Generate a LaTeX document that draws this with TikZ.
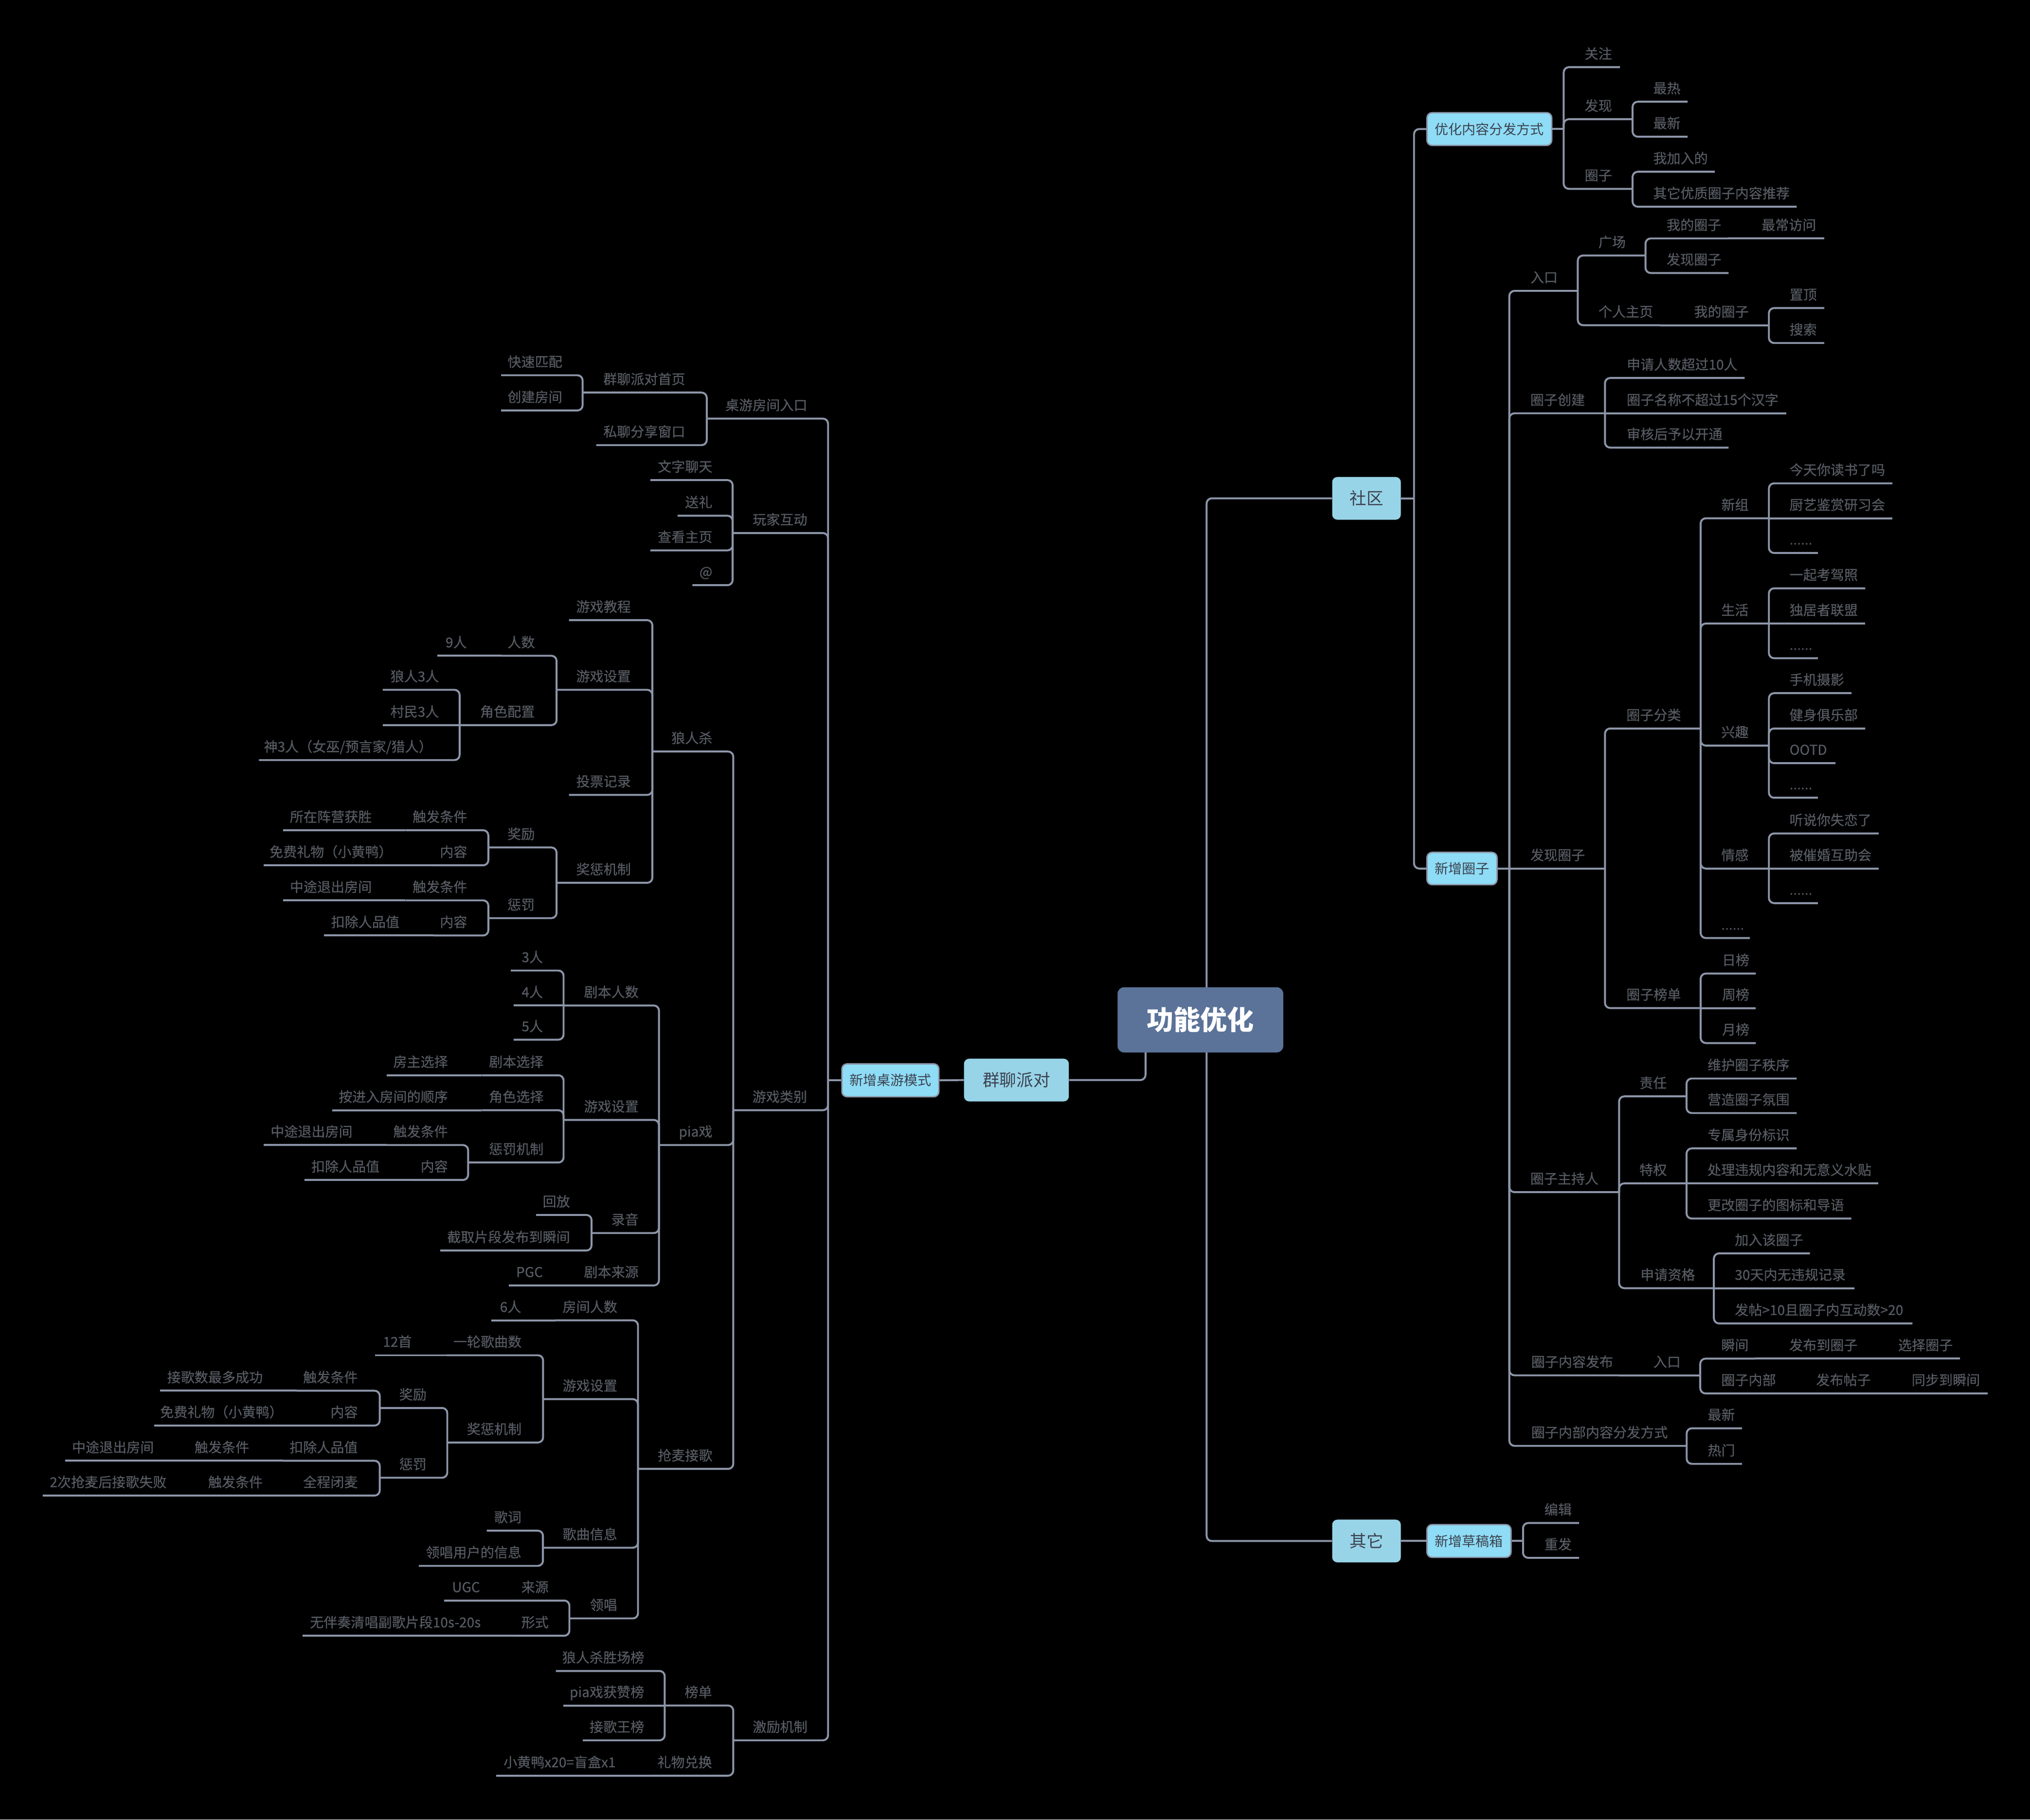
\documentclass[tikz,border=0pt]{standalone}
\usepackage{fontspec}
\newfontfamily\cjk{Noto Sans CJK SC}
\newfontfamily\cjkm[FakeBold=0.4]{Noto Sans CJK SC}
\usetikzlibrary{calc}
\definecolor{lnc}{HTML}{8D96A9}
\definecolor{txc}{HTML}{575B63}
\definecolor{boxt}{HTML}{3C4250}
\definecolor{lone}{HTML}{98D4E8}
\definecolor{ltwo}{HTML}{8EDCF5}
\definecolor{ctr}{HTML}{5B7399}
\pgfdeclarelayer{back}
\pgfdeclarelayer{bg}
\pgfsetlayers{back,bg,main}
\newcommand\RLab[5]{\node[lbl,anchor=base west] (#1) at (#2,#3-6.5) {#5};\coordinate (#1-e) at (#4,#3);}
\newcommand\LLab[5]{\node[lbl,anchor=base east] (#1) at (#2,#3-6.5) {#5};\coordinate (#1-e) at (#4,#3);}
\newcommand\MLink[2]{\draw[ln] (#1-e) |- (#2-e);}
\newcommand\MChain[2]{\draw[ln] (#1-e) -- (#2-e);}
\begin{document}
\begin{tikzpicture}[x=0.5mm,y=-0.5mm,
  lbl/.style={font=\cjkm\fontsize{15}{18}\selectfont, text=txc, inner sep=0pt},
  ln/.style={draw=lnc, line width=2.1pt, rounded corners=2mm},
  box1/.style={fill=lone, draw=none, rounded corners=2mm, inner sep=0pt, text=boxt, font=\cjk\fontsize{18.5}{22}\selectfont},
  box2/.style={fill=ltwo, draw=lnc, line width=1.5pt, rounded corners=2mm, inner sep=0pt, text=boxt, font=\cjk\fontsize{15}{18}\selectfont},
  cbox/.style={fill=ctr, draw=none, rounded corners=2.5mm, inner sep=0pt, text=white, font=\cjk\bfseries\fontsize{29.5}{34}\selectfont}]
\begin{pgfonlayer}{back}
\fill[black] (0,0) rectangle (1568,1405.7);
\end{pgfonlayer}
\useasboundingbox (0,0) rectangle (1568,1405.7);

% ---------- boxes ----------
\node[cbox, minimum width=64mm, minimum height=25.15mm] (c) at (927.2,787.9) {功能优化};
\node[box1, minimum width=40.5mm, minimum height=16.5mm] (ql) at (785.1,834.4) {群聊派对};
\node[box2, minimum width=37.45mm, minimum height=12.7mm] (zy) at (687.75,834.6) {新增桌游模式};
\node[box1, minimum width=26.5mm, minimum height=16.5mm] (sq) at (1055.5,385) {社区};
\node[box1, minimum width=26.5mm, minimum height=16.5mm] (qt) at (1055.5,1190.5) {其它};
\node[box2, minimum width=48.2mm, minimum height=12.65mm] (yh) at (1150.4,99.7) {优化内容分发方式};
\node[box2, minimum width=27.05mm, minimum height=12.5mm] (xq) at (1129.25,671.0) {新增圈子};
\node[box2, minimum width=32.45mm, minimum height=12.65mm] (cg) at (1134.65,1190.5) {新增草稿箱};

\coordinate (cv) at (932,787.9);
\coordinate (cq) at (884.8,800);
\coordinate (sq-e) at (1092.2,385);
\coordinate (yh-e) at (1207.8,99.7);
\coordinate (xq-e) at (1165.8,671.0);
\coordinate (cg-e) at (1176.4,1190.5);
\coordinate (zy-e) at (639.6,834.6);

% ---------- right labels ----------
\RLab{gz}{1223.9}{51.9}{1251.2}{关注}
\RLab{fx}{1223.9}{92.1}{1261.0}{发现}
\RLab{zr}{1276.8}{78.6}{1303.5}{最热}
\RLab{zx}{1276.8}{105.6}{1303.5}{最新}
\RLab{qz}{1223.9}{145.9}{1261.0}{圈子}
\RLab{wj}{1276.8}{132.7}{1324.5}{我加入的}
\RLab{qy}{1276.8}{159.7}{1387.8}{其它优质圈子内容推荐}
\RLab{rk}{1181.9}{224.7}{1218.7}{入口}
\RLab{gc}{1234.5}{197.4}{1271.0}{广场}
\RLab{wda}{1287.2}{184.2}{1335.0}{我的圈子}
\RLab{zcf}{1360.5}{184.2}{1409.1}{最常访问}
\RLab{fxq}{1287.2}{210.9}{1335.2}{发现圈子}
\RLab{grz}{1234.5}{251.2}{1282.0}{个人主页}
\RLab{wdb}{1308.4}{251.2}{1366.3}{我的圈子}
\RLab{zd}{1382.1}{238.0}{1409.1}{置顶}
\RLab{ss}{1382.1}{265.0}{1409.1}{搜索}
\RLab{cj}{1181.9}{319.3}{1239.7}{圈子创建}
\RLab{cja}{1256.4}{292.0}{1347.6}{申请人数超过10人}
\RLab{cjb}{1256.4}{319.3}{1379.8}{圈子名称不超过15个汉字}
\RLab{cjc}{1256.4}{345.8}{1335.2}{审核后予以开通}
\RLab{fq}{1181.9}{671.0}{1239.7}{发现圈子}
\RLab{fl}{1256.1}{562.8}{1313.6}{圈子分类}
\RLab{xz}{1329.4}{400.4}{1366.3}{新组}
\RLab{xza}{1382.1}{373.4}{1461.7}{今天你读书了吗}
\RLab{xzb}{1382.1}{400.4}{1461.7}{厨艺鉴赏研习会}
\RLab{xzc}{1382.1}{427.2}{1404.2}{......}
\RLab{sh}{1329.4}{481.7}{1366.3}{生活}
\RLab{sha}{1382.1}{454.5}{1440.7}{一起考驾照}
\RLab{shb}{1382.1}{481.7}{1440.7}{独居者联盟}
\RLab{shc}{1382.1}{508.5}{1404.2}{......}
\RLab{xqu}{1329.4}{576.0}{1366.3}{兴趣}
\RLab{xqa}{1382.1}{535.5}{1430.1}{手机摄影}
\RLab{xqb}{1382.1}{562.8}{1440.7}{健身俱乐部}
\RLab{xqc}{1382.1}{589.6}{1417.7}{OOTD}
\RLab{xqd}{1382.1}{616.3}{1404.2}{......}
\RLab{qg}{1329.4}{671.0}{1366.3}{情感}
\RLab{qga}{1382.1}{643.9}{1451.1}{听说你失恋了}
\RLab{qgb}{1382.1}{671.0}{1451.1}{被催婚互助会}
\RLab{qgc}{1382.1}{697.7}{1404.2}{......}
\RLab{fld}{1329.4}{724.7}{1351.6}{......}
\RLab{bd}{1256.1}{778.8}{1313.6}{圈子榜单}
\RLab{bda}{1330.0}{752.1}{1356.2}{日榜}
\RLab{bdb}{1330.0}{778.8}{1356.2}{周榜}
\RLab{bdc}{1330.0}{805.8}{1356.2}{月榜}
\RLab{zc}{1181.9}{921.0}{1250.6}{圈子主持人}
\RLab{zrr}{1266.2}{847.0}{1302.7}{责任}
\RLab{zra}{1318.8}{833.2}{1387.8}{维护圈子秩序}
\RLab{zrb}{1318.8}{859.9}{1387.8}{营造圈子氛围}
\RLab{tq}{1266.2}{914.2}{1302.7}{特权}
\RLab{tqa}{1318.8}{887.2}{1387.8}{专属身份标识}
\RLab{tqb}{1318.8}{914.2}{1450.9}{处理违规内容和无意义水贴}
\RLab{tqc}{1318.8}{941.4}{1429.9}{更改圈子的图标和导语}
\RLab{zg}{1267.0}{995.2}{1323.8}{申请资格}
\RLab{zga}{1339.9}{968.3}{1398.0}{加入该圈子}
\RLab{zgb}{1339.9}{995.2}{1432.3}{30天内无违规记录}
\RLab{zgc}{1339.9}{1022.4}{1477.2}{发帖>10且圈子内互动数>20}
\RLab{fb}{1182.6}{1062.5}{1250.4}{圈子内容发布}
\RLab{fbr}{1276.9}{1062.5}{1313.3}{入口}
\RLab{sj}{1329.4}{1049.6}{1355.8}{瞬间}
\RLab{sja}{1381.9}{1049.6}{1439.9}{发布到圈子}
\RLab{sjb}{1466.0}{1049.6}{1513.9}{选择圈子}
\RLab{qn}{1329.4}{1076.5}{1377.1}{圈子内部}
\RLab{qna}{1402.7}{1076.5}{1450.4}{发布帖子}
\RLab{qnb}{1476.5}{1076.5}{1535.3}{同步到瞬间}
\RLab{ff}{1182.6}{1117.0}{1302.8}{圈子内部内容分发方式}
\RLab{ffa}{1318.9}{1103.4}{1345.5}{最新}
\RLab{ffb}{1318.9}{1130.9}{1345.5}{热门}
\RLab{bj}{1192.8}{1176.6}{1219.7}{编辑}
\RLab{cf}{1192.8}{1203.5}{1219.7}{重发}

% ---------- left labels ----------
\LLab{ry}{623.7}{323.4}{545.9}{桌游房间入口}
\LLab{sy}{529.4}{303.3}{450.0}{群聊派对首页}
\LLab{kp}{434.4}{289.9}{387.1}{快速匹配}
\LLab{cjf}{434.4}{317.1}{387.1}{创建房间}
\LLab{slf}{529.4}{343.9}{460.5}{私聊分享窗口}
\LLab{hd}{623.7}{411.8}{565.9}{玩家互动}
\LLab{hda}{550.4}{370.9}{502.4}{文字聊天}
\LLab{hdb}{550.4}{398.4}{523.4}{送礼}
\LLab{hdc}{550.4}{425.2}{502.4}{查看主页}
\LLab{hdd}{550.4}{452.1}{534.8}{@}
\LLab{lb}{623.5}{857.7}{566.4}{游戏类别}
\LLab{lr}{550.4}{580.6}{503.9}{狼人杀}
\LLab{lra}{487.4}{479.1}{439.5}{游戏教程}
\LLab{lrb}{487.4}{532.9}{429.9}{游戏设置}
\LLab{rs}{413.2}{506.6}{387.4}{人数}
\LLab{rsa}{360.7}{506.6}{337.7}{9人}
\LLab{js}{413.2}{560.2}{355.0}{角色配置}
\LLab{jsa}{339.2}{532.9}{295.7}{狼人3人}
\LLab{jsb}{339.2}{560.2}{295.7}{村民3人}
\LLab{jsc}{334.1}{587.2}{200.0}{神3人（女巫/预言家/猎人）}
\LLab{lrc}{487.4}{614.1}{439.5}{投票记录}
\LLab{lrd}{487.4}{682.0}{429.9}{奖惩机制}
\LLab{jl}{413.2}{654.7}{377.2}{奖励}
\LLab{jla}{361.0}{641.4}{313.1}{触发条件}
\LLab{jlb}{287.3}{641.4}{218.8}{所在阵营获胜}
\LLab{jlc}{361.0}{668.5}{334.7}{内容}
\LLab{jld}{303.2}{668.5}{203.5}{免费礼物（小黄鸭）}
\LLab{cfa}{413.2}{709.3}{377.2}{惩罚}
\LLab{cfb}{361.0}{695.6}{313.1}{触发条件}
\LLab{cfc}{287.3}{695.6}{218.8}{中途退出房间}
\LLab{cfd}{361.0}{722.7}{334.7}{内容}
\LLab{cfe}{308.6}{722.7}{250.2}{扣除人品值}
\LLab{px}{550.4}{884.6}{509.0}{pia戏}
\LLab{pxa}{493.4}{776.8}{435.3}{剧本人数}
\LLab{pa3}{419.5}{749.8}{394.6}{3人}
\LLab{pa4}{419.5}{776.8}{396.7}{4人}
\LLab{pa5}{419.5}{803.2}{396.7}{5人}
\LLab{pxb}{493.4}{865.2}{435.3}{游戏设置}
\LLab{pba}{420.0}{830.7}{372.1}{剧本选择}
\LLab{pbb}{346.1}{830.7}{298.7}{房主选择}
\LLab{pbc}{420.0}{857.7}{372.1}{角色选择}
\LLab{pbd}{346.1}{857.7}{256.8}{按进入房间的顺序}
\LLab{pbe}{420.0}{898.1}{361.6}{惩罚机制}
\LLab{pbf}{346.1}{884.6}{298.7}{触发条件}
\LLab{pbg}{272.4}{884.6}{203.5}{中途退出房间}
\LLab{pbh}{346.1}{911.6}{319.7}{内容}
\LLab{pbi}{293.3}{911.6}{235.2}{扣除人品值}
\LLab{pxc}{493.4}{952.6}{456.9}{录音}
\LLab{pca}{440.4}{938.6}{414.1}{回放}
\LLab{pcb}{440.4}{966.1}{340.1}{截取片段发布到瞬间}
\LLab{pxd}{493.4}{993.1}{445.5}{剧本来源}
\LLab{pda}{419.5}{993.1}{393.1}{PGC}
\LLab{qm}{550.4}{1134.8}{492.8}{抢麦接歌}
\LLab{qma}{476.9}{1020.0}{429.0}{房间人数}
\LLab{qmb}{402.7}{1020.0}{379.6}{6人}
\LLab{qmc}{476.9}{1080.9}{419.5}{游戏设置}
\LLab{qca}{403.0}{1047.0}{345.2}{一轮歌曲数}
\LLab{qcb}{318.2}{1047.0}{289.7}{12首}
\LLab{qcc}{403.0}{1114.4}{345.5}{奖惩机制}
\LLab{qjl}{329.6}{1087.7}{293.3}{奖励}
\LLab{qla}{276.5}{1074.4}{229.2}{触发条件}
\LLab{qlb}{203.1}{1074.4}{123.7}{接歌数最多成功}
\LLab{qlc}{276.5}{1101.3}{250.1}{内容}
\LLab{qld}{218.7}{1101.3}{119.0}{免费礼物（小黄鸭）}
\LLab{qjc}{329.6}{1141.6}{293.3}{惩罚}
\LLab{qja}{276.5}{1128.5}{218.7}{扣除人品值}
\LLab{qjb}{192.6}{1128.5}{145.3}{触发条件}
\LLab{qjd}{119.0}{1128.5}{50.4}{中途退出房间}
\LLab{qje}{276.5}{1155.4}{229.2}{全程闭麦}
\LLab{qjf}{203.1}{1155.4}{155.2}{触发条件}
\LLab{qjg}{128.8}{1155.4}{33.0}{2次抢麦后接歌失败}
\LLab{qmd}{476.9}{1195.7}{419.4}{歌曲信息}
\LLab{qda}{402.9}{1182.5}{376.0}{歌词}
\LLab{qdb}{402.9}{1209.7}{323.5}{领唱用户的信息}
\LLab{qme}{476.9}{1250.3}{439.8}{领唱}
\LLab{qea}{423.9}{1236.5}{397.5}{来源}
\LLab{qeb}{370.9}{1236.5}{343.0}{UGC}
\LLab{qec}{423.9}{1263.7}{397.5}{形式}
\LLab{qed}{371.5}{1263.7}{233.7}{无伴奏清唱副歌片段10s-20s}
\LLab{jj}{623.8}{1344.5}{566.4}{激励机制}
\LLab{jja}{550.1}{1317.6}{513.4}{榜单}
\LLab{jjb}{497.7}{1290.9}{429.3}{狼人杀胜场榜}
\LLab{jjc}{497.7}{1317.6}{435.0}{pia戏获赞榜}
\LLab{jjd}{497.7}{1344.5}{450.2}{接歌王榜}
\LLab{jje}{550.1}{1371.8}{503.0}{礼物兑换}
\LLab{jjf}{475.7}{1371.8}{383.4}{小黄鸭x20=盲盒x1}

% ---------- connectors ----------
\begin{pgfonlayer}{bg}
\draw[ln] (cv) |- (sq.west);
\draw[ln] (cv) |- (qt.west);
\draw[ln] (cq) |- (ql.east);
\draw[ln] (ql.west) -- (zy.east);
\draw[ln] (sq.east) -- (sq-e);
\draw[ln] (sq-e) |- (yh.west);
\draw[ln] (sq-e) |- (xq.west);
\draw[ln] (yh.east) -- (yh-e);
\draw[ln] (xq.east) -- (xq-e);
\draw[ln] (qt.east) -- (cg.west);
\draw[ln] (cg.east) -- (cg-e);
\draw[ln] (zy.west) -- (zy-e);
% right
\MLink{yh}{gz}\MLink{yh}{fx}\MLink{yh}{qz}
\MLink{fx}{zr}\MLink{fx}{zx}
\MLink{qz}{wj}\MLink{qz}{qy}
\MLink{xq}{rk}\MLink{xq}{cj}\MChain{xq}{fq}\MLink{xq}{zc}\MLink{xq}{fb}\MLink{xq}{ff}
\MLink{rk}{gc}\MLink{rk}{grz}
\MLink{gc}{wda}\MLink{gc}{fxq}\MChain{wda}{zcf}
\MChain{grz}{wdb}\MLink{wdb}{zd}\MLink{wdb}{ss}
\MLink{cj}{cja}\MChain{cj}{cjb}\MLink{cj}{cjc}
\MLink{fq}{fl}\MLink{fq}{bd}
\MLink{fl}{xz}\MLink{fl}{sh}\MLink{fl}{xqu}\MLink{fl}{qg}\MLink{fl}{fld}
\MLink{xz}{xza}\MChain{xz}{xzb}\MLink{xz}{xzc}
\MLink{sh}{sha}\MChain{sh}{shb}\MLink{sh}{shc}
\MLink{xqu}{xqa}\MLink{xqu}{xqb}\MLink{xqu}{xqc}\MLink{xqu}{xqd}
\MLink{qg}{qga}\MChain{qg}{qgb}\MLink{qg}{qgc}
\MLink{bd}{bda}\MChain{bd}{bdb}\MLink{bd}{bdc}
\MLink{zc}{zrr}\MLink{zc}{tq}\MLink{zc}{zg}
\MLink{zrr}{zra}\MLink{zrr}{zrb}
\MLink{tq}{tqa}\MChain{tq}{tqb}\MLink{tq}{tqc}
\MLink{zg}{zga}\MChain{zg}{zgb}\MLink{zg}{zgc}
\MChain{fb}{fbr}\MLink{fbr}{sj}\MLink{fbr}{qn}
\MChain{sj}{sja}\MChain{sja}{sjb}
\MChain{qn}{qna}\MChain{qna}{qnb}
\MLink{ff}{ffa}\MLink{ff}{ffb}
\MLink{cg}{bj}\MLink{cg}{cf}
% left
\MLink{zy}{ry}\MLink{zy}{hd}\MLink{zy}{lb}\MLink{zy}{jj}
\MLink{ry}{sy}\MLink{ry}{slf}
\MLink{sy}{kp}\MLink{sy}{cjf}
\MLink{hd}{hda}\MLink{hd}{hdb}\MLink{hd}{hdc}\MLink{hd}{hdd}
\MLink{lb}{lr}\MLink{lb}{px}\MLink{lb}{qm}
\MLink{lr}{lra}\MLink{lr}{lrb}\MLink{lr}{lrc}\MLink{lr}{lrd}
\MLink{lrb}{rs}\MLink{lrb}{js}\MChain{rs}{rsa}
\MLink{js}{jsa}\MChain{js}{jsb}\MLink{js}{jsc}
\MLink{lrd}{jl}\MLink{lrd}{cfa}
\MLink{jl}{jla}\MLink{jl}{jlc}\MChain{jla}{jlb}\MChain{jlc}{jld}
\MLink{cfa}{cfb}\MLink{cfa}{cfd}\MChain{cfb}{cfc}\MChain{cfd}{cfe}
\MLink{px}{pxa}\MLink{px}{pxb}\MLink{px}{pxc}\MLink{px}{pxd}
\MLink{pxa}{pa3}\MChain{pxa}{pa4}\MLink{pxa}{pa5}
\MLink{pxb}{pba}\MLink{pxb}{pbc}\MLink{pxb}{pbe}
\MChain{pba}{pbb}\MChain{pbc}{pbd}
\MLink{pbe}{pbf}\MLink{pbe}{pbh}\MChain{pbf}{pbg}\MChain{pbh}{pbi}
\MLink{pxc}{pca}\MLink{pxc}{pcb}
\MChain{pxd}{pda}
\MLink{qm}{qma}\MLink{qm}{qmc}\MLink{qm}{qmd}\MLink{qm}{qme}
\MChain{qma}{qmb}
\MLink{qmc}{qca}\MLink{qmc}{qcc}\MChain{qca}{qcb}
\MLink{qcc}{qjl}\MLink{qcc}{qjc}
\MLink{qjl}{qla}\MLink{qjl}{qlc}\MChain{qla}{qlb}\MChain{qlc}{qld}
\MLink{qjc}{qja}\MLink{qjc}{qje}
\MChain{qja}{qjb}\MChain{qjb}{qjd}
\MChain{qje}{qjf}\MChain{qjf}{qjg}
\MLink{qmd}{qda}\MLink{qmd}{qdb}
\MLink{qme}{qea}\MLink{qme}{qec}\MChain{qea}{qeb}\MChain{qec}{qed}
\MLink{jj}{jja}\MLink{jj}{jje}
\MLink{jja}{jjb}\MChain{jja}{jjc}\MLink{jja}{jjd}
\MChain{jje}{jjf}
\end{pgfonlayer}
\end{tikzpicture}
\end{document}
